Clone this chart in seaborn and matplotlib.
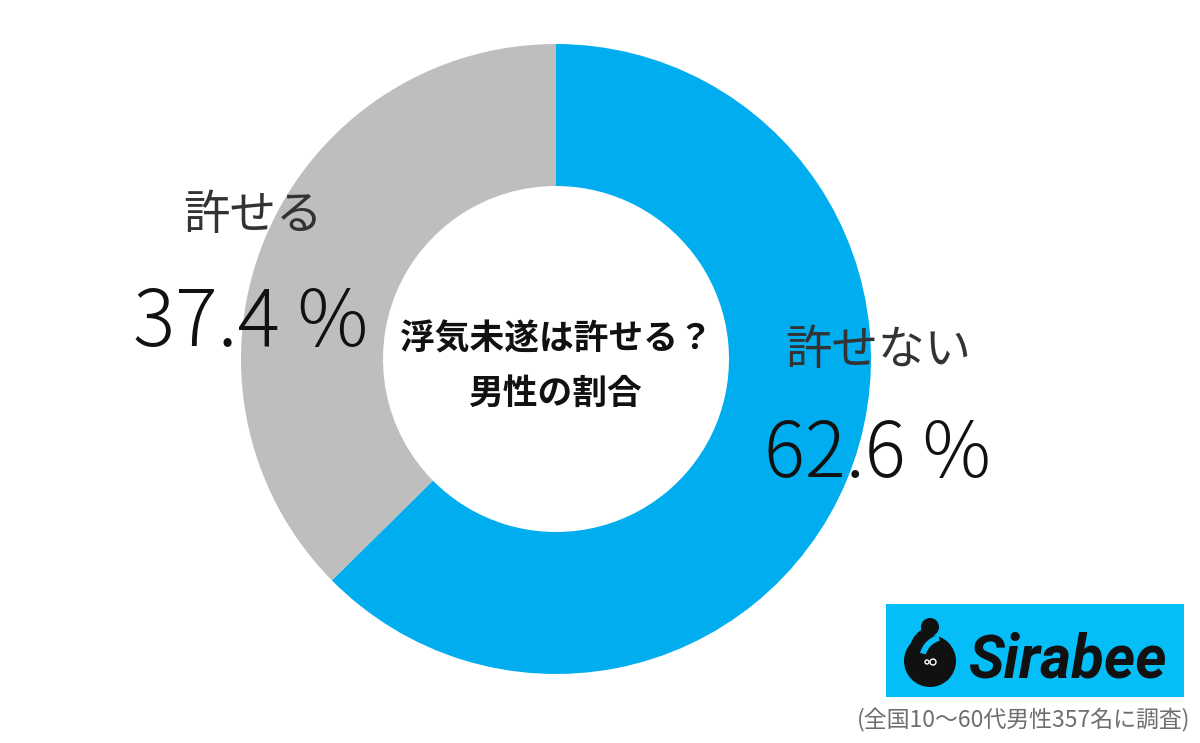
import matplotlib
matplotlib.use('Agg')
import matplotlib.pyplot as plt
from matplotlib.patches import Rectangle, Circle, Wedge
import seaborn as sns

sns.set_theme(style='white')
plt.rcParams['font.family'] = ['Noto Sans CJK JP', 'DejaVu Sans']

labels = ['許せない', '許せる']
values = [62.6, 37.4]
colors = ['#00AEEF', '#BEBEBE']
value_labels = ['62.6 %', '37.4 %']
title_lines = '浮気未遂は許せる？\n男性の割合'
note = '(全国10〜60代男性357名に調査)'

W, H = 1200, 743
fig = plt.figure(figsize=(W / 100, H / 100), dpi=100)

# donut, clockwise from top
cx, cy, r_out, r_in = 556, 359, 315, 173
pie_ax = fig.add_axes([(cx - r_out) / W, 1 - (cy + r_out) / H, 2 * r_out / W, 2 * r_out / H])
pie_ax.pie(values, colors=colors, startangle=90, counterclock=False, radius=1,
           wedgeprops=dict(width=1 - r_in / r_out, linewidth=0))
pie_ax.set_xlim(-1, 1)
pie_ax.set_ylim(-1, 1)

# overlay in pixel coordinates for the text and logo
ax2 = fig.add_axes([0, 0, 1, 1])
ax2.set_xlim(0, W)
ax2.set_ylim(H, 0)
ax2.axis('off')
ax2.patch.set_alpha(0)

ax2.text(556, 366, title_lines, ha='center', va='center', fontsize=25, fontweight='bold',
         color='#111111', linespacing=1.7)
ax2.text(878, 351, labels[0], ha='center', va='center', fontsize=33.5, color='#333333')
ax2.text(877, 455, value_labels[0], ha='center', va='center', fontsize=55, color='#111111',
         fontweight='light')
ax2.text(253, 216, labels[1], ha='center', va='center', fontsize=33.5, color='#333333')
ax2.text(251, 324, value_labels[1], ha='center', va='center', fontsize=57, color='#111111',
         fontweight='light')

# logo
logo_blue = '#05BEF8'
ax2.add_patch(Rectangle((886, 604), 298, 93, color=logo_blue, lw=0))
ax2.add_patch(Circle((930, 661), 26, color='#111111', lw=0))
ax2.add_patch(Wedge((945, 660), 26, 196, 255, width=6, color=logo_blue, lw=0))
ax2.add_patch(Wedge((937, 653), 28, 167, 255, width=10, color='#111111', lw=0))
ax2.add_patch(Circle((930, 627), 9, color='#111111', lw=0))
ax2.add_patch(Circle((933, 662), 3, fill=False, ec='white', lw=1))
ax2.add_patch(Circle((927, 662), 2, fill=False, ec='white', lw=1))
ax2.text(1067, 661, 'Sirabee', ha='center', va='center', fontsize=43, fontweight='bold',
         fontstyle='italic', color='#111111', family=['Roboto', 'DejaVu Sans'])
ax2.text(1024, 720, note, ha='center', va='center', fontsize=16.5, color='#6E6E6E')

fig.savefig('out.png', dpi=100)
